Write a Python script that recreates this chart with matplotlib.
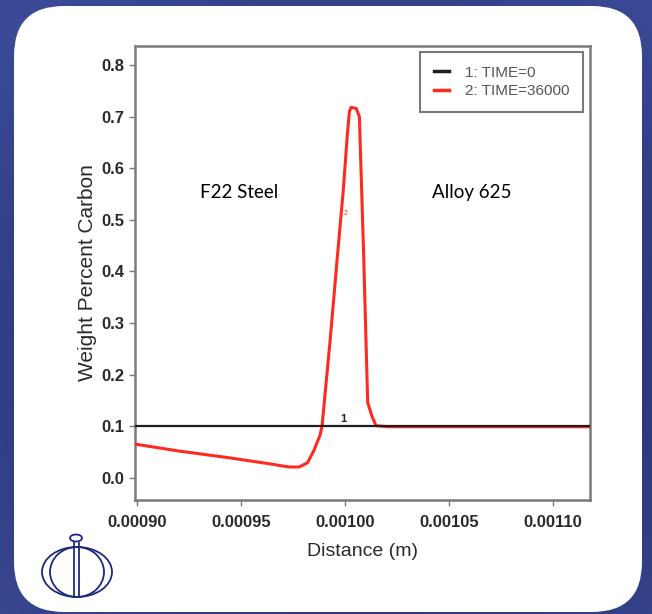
import numpy as np
import matplotlib
matplotlib.use("Agg")
import matplotlib.pyplot as plt
from matplotlib.patches import FancyBboxPatch, Ellipse
from matplotlib.lines import Line2D

# carbon profile across the F22 / Alloy 625 joint
dist_t0 = [0.000899, 0.001118]
carbon_t0 = [0.1, 0.1]

dist_t1 = [0.000898, 0.000920, 0.000944, 0.000964, 0.000973, 0.000978,
           0.000982, 0.000985, 0.000988, 0.000989, 0.000993, 0.000996,
           0.0009993, 0.0010012, 0.0010022, 0.001003, 0.0010055, 0.001007,
           0.001009, 0.001011, 0.001013, 0.001015, 0.001021, 0.001118]
carbon_t1 = [0.066, 0.052, 0.039, 0.027, 0.021, 0.021,
             0.029, 0.052, 0.082, 0.099, 0.27, 0.41,
             0.56, 0.665, 0.71, 0.718, 0.716, 0.700,
             0.44, 0.146, 0.12, 0.101, 0.099, 0.099]

series_labels = ["1: TIME=0", "2: TIME=36000"]
x_ticks = [0.00090, 0.00095, 0.00100, 0.00105, 0.00110]
y_ticks = [0.0, 0.1, 0.2, 0.3, 0.4, 0.5, 0.6, 0.7, 0.8]

W, H = 652, 614
fig = plt.figure(figsize=(W / 100, H / 100), dpi=100)

# background: blue gradient + white rounded panel
bg = fig.add_axes([0, 0, 1, 1])
bg.set_xlim(0, W)
bg.set_ylim(H, 0)
bg.axis("off")
yy, xx = np.mgrid[0:1:200j, 0:1:200j]
d = np.sqrt((xx - 0.55) ** 2 + (yy - 0.6) ** 2)
d = np.clip(d / 0.75, 0, 1)
c_in = np.array([0x1c, 0x22, 0x58]) / 255
c_out = np.array([0x3a, 0x4a, 0x96]) / 255
img = c_in[None, None, :] * (1 - d[..., None]) + c_out[None, None, :] * d[..., None]
bg.imshow(img, extent=[0, W, H, 0], aspect="auto", zorder=0)
bg.add_patch(FancyBboxPatch((14 + 50, 6 + 50), 628 - 100, 606 - 100,
                            boxstyle="round,pad=50", fc="white", ec="none", zorder=1))

# logo
navy = "#1b2a80"
bg.add_patch(Ellipse((77, 572), 70, 50, fill=False, ec=navy, lw=1.3, zorder=2))
bg.add_patch(Ellipse((77, 572), 54, 50, fill=False, ec=navy, lw=1.3, zorder=2))
bg.add_patch(Ellipse((76, 538), 12, 7, fill=False, ec=navy, lw=1.3, zorder=2))
bg.plot([73.5, 73.5], [543, 597], color=navy, lw=1.3, zorder=2)
bg.plot([78.5, 78.5], [543, 597], color=navy, lw=1.3, zorder=2)

# main chart
ax = fig.add_axes([135 / W, 1 - 500 / H, 455 / W, 454 / H])
ax.plot(dist_t1, carbon_t1, color="#ff2a1f", lw=2.2, zorder=3, label=series_labels[1])
ax.plot(dist_t0, carbon_t0, color="#1e1e1e", lw=1.6, zorder=4, label=series_labels[0])
ax.text(0.0009993, 0.104, "1", fontsize=8, color="#222", ha="center", va="bottom",
        family="Liberation Sans", fontweight="bold")
ax.text(0.0009992, 0.512, "2", fontsize=5, color="#ff2a1f", ha="left", va="center",
        family="Liberation Sans")

ax.set_xlim(0.000899, 0.001118)
ax.set_ylim(-0.043, 0.837)
ax.set_xticks(x_ticks)
ax.set_xticklabels([f"{v:.5f}" for v in x_ticks])
ax.set_yticks(y_ticks)
ax.set_yticklabels([f"{v:.1f}" for v in y_ticks])
for s in ax.spines.values():
    s.set_color("#7a7a7a")
    s.set_linewidth(1.8)
ax.tick_params(direction="out", length=4, width=1, color="#7a7a7a")
ax.tick_params(axis="x", pad=7)
ax.tick_params(axis="y", pad=4)
for lab in ax.get_xticklabels() + ax.get_yticklabels():
    lab.set_family("Liberation Sans")
    lab.set_fontweight("bold")
    lab.set_fontsize(12)
    lab.set_color("#2a2a2a")

ax.set_xlabel("Distance (m)", family="Liberation Sans", fontsize=14, color="#2a2a2a", labelpad=9)
ax.set_ylabel("Weight Percent Carbon", family="Liberation Sans", fontsize=15,
              color="#2a2a2a", labelpad=3)

ax.text(0.000949, 0.553, "F22 Steel", fontsize=13.5, family="Lato", ha="center", va="center")
ax.text(0.001061, 0.553, "Alloy 625", fontsize=13.5, family="Lato", ha="center", va="center")

handles = [Line2D([], [], color="#1e1e1e", lw=2.5), Line2D([], [], color="#ff2a1f", lw=2.5)]
leg = ax.legend(handles, series_labels, loc="upper right",
                bbox_to_anchor=(1 - 7 / 455, 1 - 6 / 454), borderaxespad=0,
                fancybox=False, framealpha=1, edgecolor="#7a7a7a",
                prop={"family": "Liberation Sans", "size": 11},
                handlelength=1.0, handletextpad=1.0, borderpad=0.9, labelspacing=0.3)
leg.get_frame().set_linewidth(1.5)
for t in leg.get_texts():
    t.set_color("#555555")

fig.savefig("out.png", dpi=100)
